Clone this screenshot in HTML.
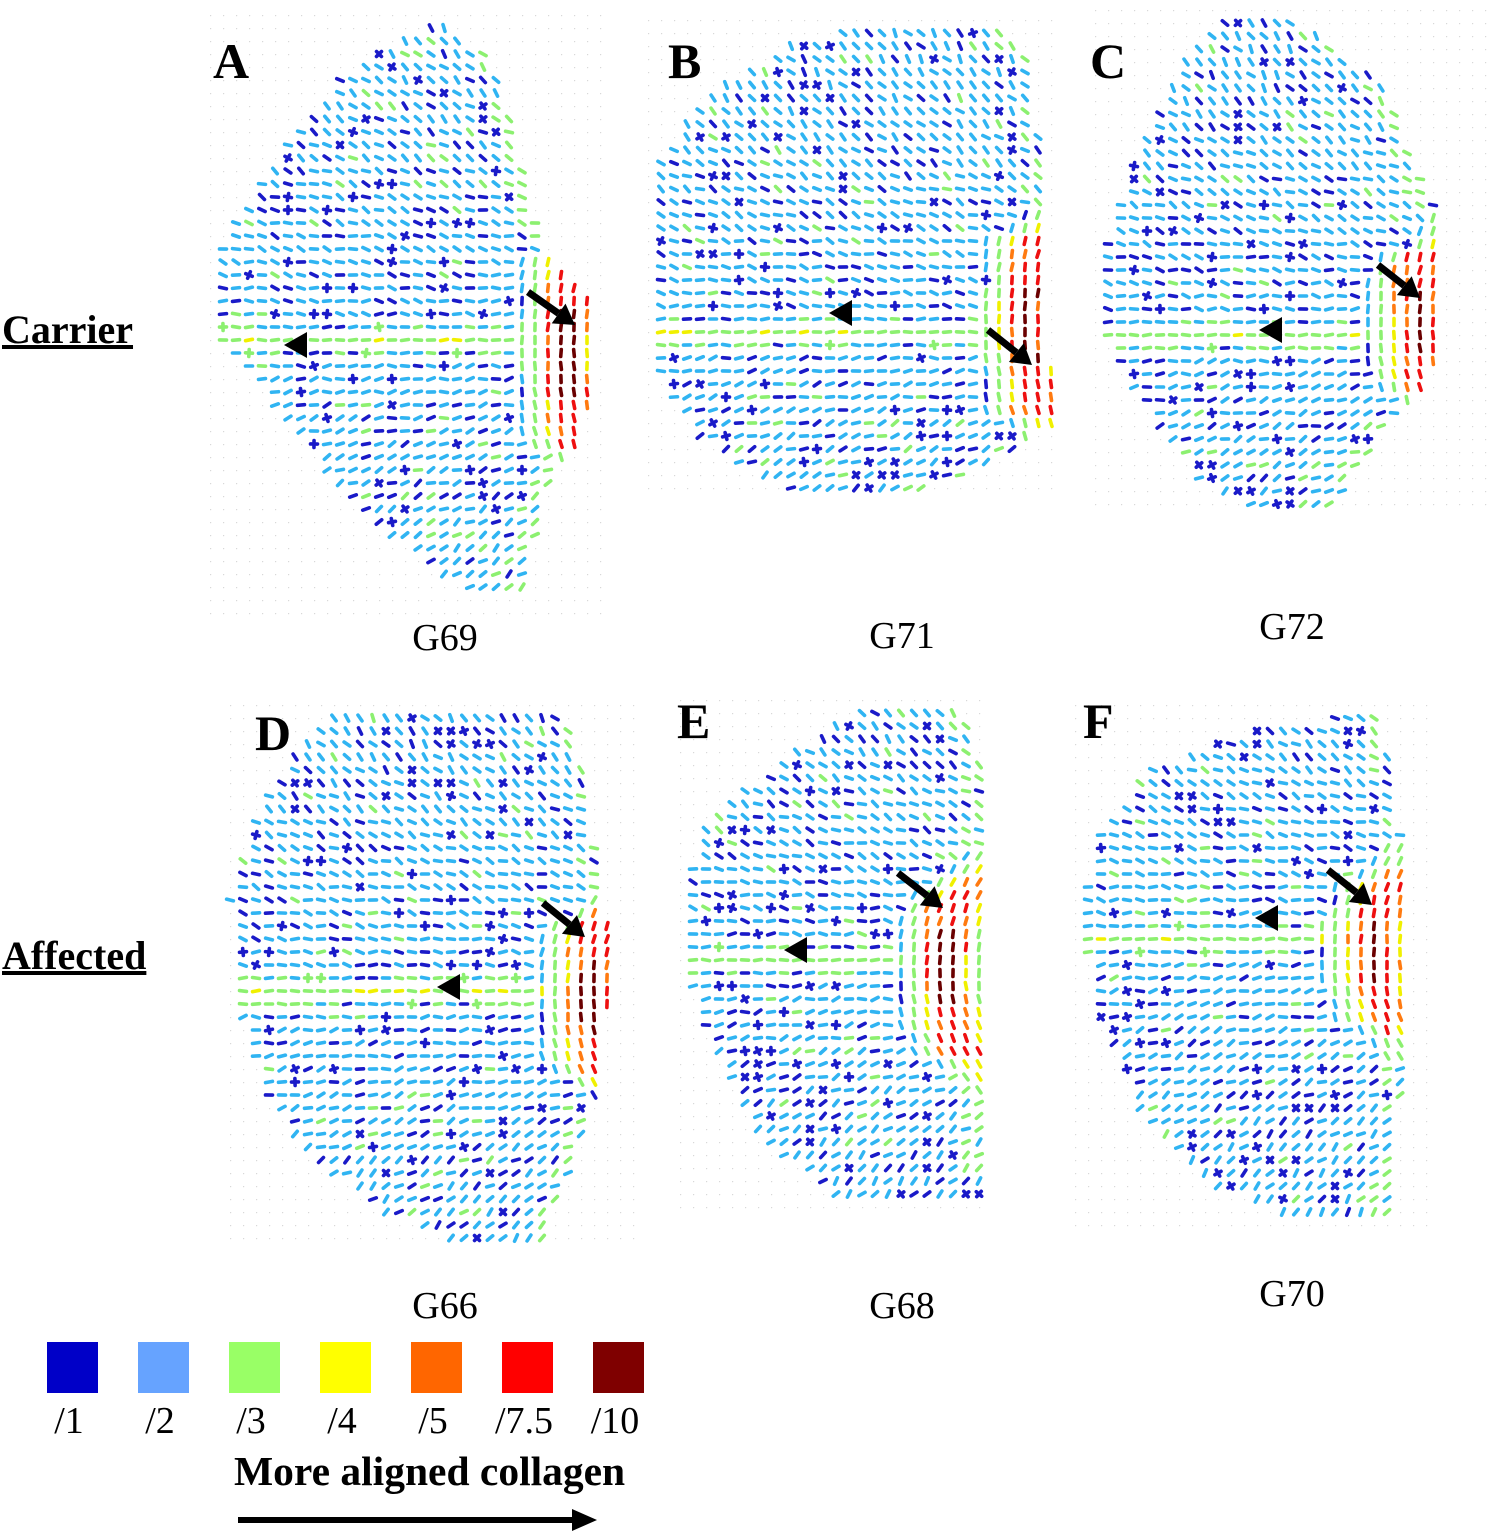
<!DOCTYPE html>
<html><head><meta charset="utf-8">
<style>
html,body{margin:0;padding:0;background:#fff;}
body{width:1495px;height:1533px;position:relative;overflow:hidden;font-family:"Liberation Serif",serif;}
.t{position:absolute;color:#000;white-space:nowrap;}
</style></head>
<body>
<svg id="fig" width="1495" height="1533" style="position:absolute;left:0;top:0"></svg>
<div class="t" style="left:2px;top:306px;font-size:40px;font-weight:bold;text-decoration:underline;">Carrier</div>
<div class="t" style="left:2px;top:932px;font-size:40px;font-weight:bold;text-decoration:underline;">Affected</div>
<div class="t" style="left:234px;top:1447px;font-size:41.5px;font-weight:bold;">More aligned collagen</div>
<script>
const panelIds = ['A','B','C','D','E','F'];
const panelNames = ['G69','G71','G72','G66','G68','G70'];
const panelLabelPos = [[213,78],[668,78],[1090,78],[255,750],[677,738],[1083,738]];
const panelNamePos = [[445,650],[902,648],[1292,639],[445,1318],[902,1318],[1292,1306]];
const panelShapes = [
 [[445,20],[490,60],[520,150],[545,250],[590,300],[595,330],[585,430],[545,490],[525,590],[490,598],[430,568],[350,500],[270,400],[215,330],[210,260],[260,180],[340,80],[400,40]],
 [[650,180],[700,100],[800,40],[880,22],[1000,25],[1030,60],[1045,200],[1045,330],[1060,420],[1000,460],[900,498],[800,498],[700,440],[660,380],[648,300]],
 [[1225,12],[1290,18],[1380,80],[1425,180],[1445,220],[1440,300],[1430,390],[1380,430],[1340,505],[1260,515],[1200,480],[1140,400],[1100,330],[1100,270],[1130,170],[1180,60]],
 [[330,710],[560,710],[580,760],[600,880],[615,960],[600,1060],[590,1120],[560,1200],[540,1245],[450,1242],[380,1210],[300,1150],[260,1080],[235,1000],[230,900],[260,800]],
 [[700,830],[780,760],[870,705],[960,700],[985,780],[985,900],[985,1040],[985,1205],[850,1205],[760,1140],[720,1060],[685,980],[683,900]],
 [[1150,770],[1250,730],[1380,710],[1395,800],[1410,900],[1410,1010],[1400,1100],[1390,1222],[1300,1222],[1200,1180],[1140,1110],[1090,1000],[1085,900],[1100,830]]
];
const panelBBox = [[210,15,600,620],[648,20,1060,500],[1095,10,1495,515],[230,705,635,1245],[680,700,990,1210],[1075,705,1430,1230]];
const arrowheads = [[297,345],[842,313],[1272,330],[450,987],[797,950],[1268,918]];
const arrows = [[528,292,575,325],[988,330,1032,365],[1378,265,1420,298],[543,903,585,937],[898,873,943,908],[1328,870,1372,905]];
const bands = [[565,270,430,0.0015],[1028,255,400,0.0015],[1418,270,375,0.002],[588,935,1060,0.0025],[945,900,1040,0.003],[1375,895,1010,0.0025]];
const midlineY = [340,330,330,995,955,935];
const legendColors = ['#0000c8','#66a3ff','#99ff66','#ffff00','#ff6600','#ff0000','#7f0000'];
const legendLabels = ['/1','/2','/3','/4','/5','/7.5','/10'];

const NS='http://www.w3.org/2000/svg';
const svg=document.getElementById('fig');
function mk(tag,attrs,parent){const e=document.createElementNS(NS,tag);for(const k in attrs)e.setAttribute(k,attrs[k]);(parent||svg).appendChild(e);return e;}
function inside(p,x,y){let c=false;for(let i=0,j=p.length-1;i<p.length;j=i++){const [xi,yi]=p[i],[xj,yj]=p[j];if(((yi>y)!=(yj>y))&&(x<(xj-xi)*(y-yi)/(yj-yi)+xi))c=!c;}return c;}
function hash(i,j,k){let h=(i*73856093)^(j*19349663)^(k*83492791);h=(h^(h>>>13))*1274126177;h=h^(h>>>16);return Math.abs(h)%1000;}
const LB='#30b4f2',DB='#1a1ac8',GR='#8cf070',YE='#f0f000',OR='#ff7a10',RD='#ee1010',DR='#6a0000';
const S=13;
panelIds.forEach((id,pi)=>{
 const g=mk('g',{});
 
 
 const [x0,y0,x1,y1]=panelBBox[pi];const poly=panelShapes[pi];const [bx,by0,by1,bc]=bands[pi];const my=(by0+by1)/2;const ml=midlineY[pi];
 const halfH=(y1-y0)/2;
 let gi=0;
 for(let y=y0;y<=y1;y+=S){let gj=0;for(let x=x0;x<=x1;x+=S){gj++;
  if(!inside(poly,x,y)){mk('rect',{x:x,y:y,width:1.2,height:1.2,fill:'#d8d8d8'},g);continue;}
  const h=hash(gi,gj,pi);
  const dyb=y-my;const bandX=bx+bc*dyb*dyb;
  const yin=y>=by0-15&&y<=by1+15;
  const d=Math.abs(x-bandX)+(yin?0:Math.min(Math.abs(y-by0),Math.abs(y-by1))*0.8);
  let col=h<280?DB:LB;let ang;let cross=(col===DB&&h%3===0);
  const edge=!inside(poly,x+S*1.5,y);
  if(d<9){col=(Math.abs(dyb)<(by1-by0)*0.3)?DR:RD;cross=false;}
  else if(d<20){col=h%2?RD:OR;cross=false;}
  else if(d<30){col=h%3?YE:OR;cross=false;}
  else if(d<44){col=GR;cross=false;}
  else if(Math.abs(y-ml)<7&&x<bandX){col=h%5===0?YE:GR;cross=false;}
  else if(Math.abs(y-ml)<20&&x<bandX&&h%3===0){col=GR;}
  else if(edge&&h%2===0){col=GR;cross=false;}
  else if(h>940){col=GR;}
  if(d<55){ang=Math.atan2(1,2*bc*dyb)+(h%20-10)*0.01;}
  else if(Math.abs(y-ml)<20){ang=(h%20-10)*0.02;}
  else{ang=Math.max(-0.9,Math.min(0.9,0.9*(ml-y)/halfH))+(h%40-20)*0.02;}
  const L=3.5;const dx=Math.cos(ang)*L,dy=Math.sin(ang)*L;
  mk('line',{x1:x-dx,y1:y-dy,x2:x+dx,y2:y+dy,stroke:col,'stroke-width':3.6,'stroke-linecap':'round'},g);
  if(cross){mk('line',{x1:x+dy,y1:y-dx,x2:x-dy,y2:y+dx,stroke:col,'stroke-width':3.6,'stroke-linecap':'round'},g);}
 }gi++;}
 const [ax,ay]=arrowheads[pi];
 const ah=mk('polygon',{points:`${ax-13},${ay} ${ax+10},${ay-13} ${ax+10},${ay+13}`,fill:'#000'});
 
 
 const [sx,sy,ex,ey]=arrows[pi];const a=Math.atan2(ey-sy,ex-sx);const ca=Math.cos(a),sa=Math.sin(a);
 const bxp=ex-ca*20,byp=ey-sa*20;
 const ag=mk('g',{});
 
 
 mk('line',{x1:sx,y1:sy,x2:bxp,y2:byp,stroke:'#000','stroke-width':7},ag);
 mk('polygon',{points:`${ex},${ey} ${bxp-sa*12},${byp+ca*12} ${bxp+sa*12},${byp-ca*12}`,fill:'#000'},ag);
 const [lx,ly]=panelLabelPos[pi];
 const lt=mk('text',{x:lx,y:ly,'font-family':'Liberation Serif, serif','font-size':50,'font-weight':'bold'});lt.textContent=id;
 
 
 const [nx,ny]=panelNamePos[pi];
 const nt=mk('text',{x:nx,y:ny,'font-family':'Liberation Serif, serif','font-size':38,'text-anchor':'middle'});nt.textContent=panelNames[pi];
 
 
});
legendColors.forEach((c,i)=>{
 const x=47+i*91;
 const r=mk('rect',{x:x,y:1342,width:51,height:51,fill:c});
 
 
 const t=mk('text',{x:x+22,y:1433,'font-family':'Liberation Serif, serif','font-size':38,'text-anchor':'middle'});t.textContent=legendLabels[i];
 
 
});
const la=mk('g',{});


mk('line',{x1:238,y1:1520,x2:575,y2:1520,stroke:'#000','stroke-width':6},la);
mk('polygon',{points:'597,1520 572,1509 572,1531',fill:'#000'},la);
</script>
</body></html>
